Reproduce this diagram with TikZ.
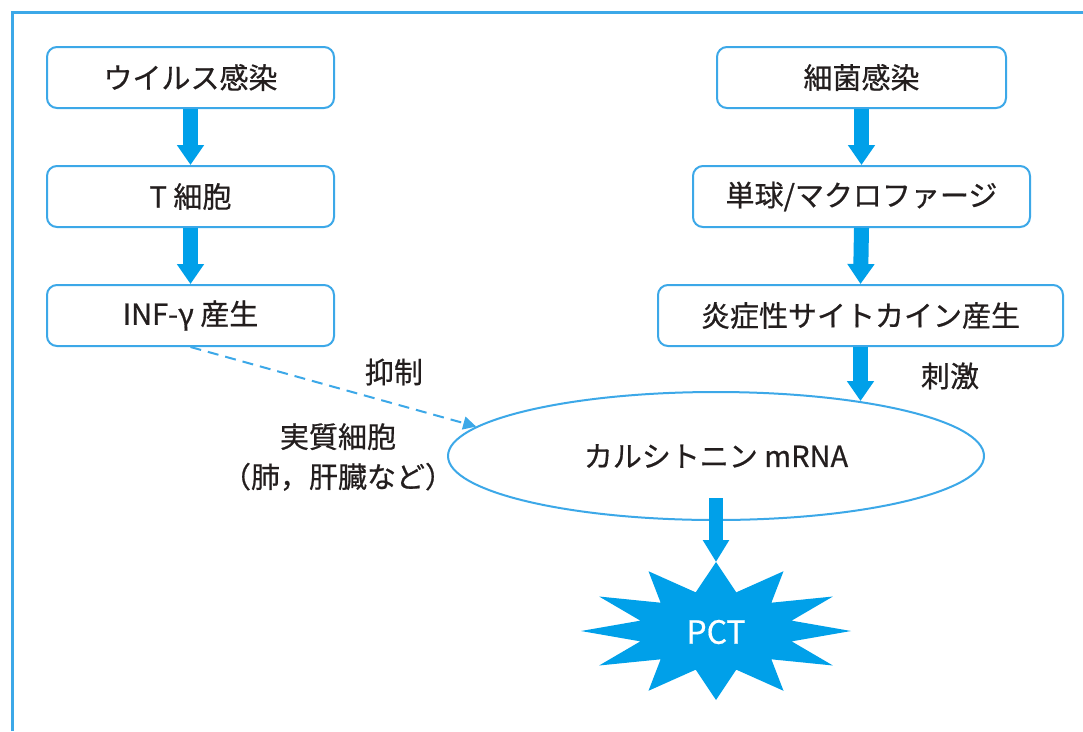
\documentclass[tikz,border=0pt]{standalone}
\usepackage{fontspec}
\setmainfont{Noto Sans CJK JP}[FakeBold=0.6]
\usetikzlibrary{arrows.meta,shapes.geometric}
\definecolor{cblue}{RGB}{0,160,233}
\definecolor{bblue}{RGB}{60,168,232}
\definecolor{txt}{RGB}{35,30,30}
\tikzset{
  box/.style={draw=bblue, line width=2pt, rounded corners=10pt, minimum height=61pt, inner sep=0pt, text=txt, font=\fontsize{29}{34}\selectfont},
  bigarrow/.style={draw=cblue, line width=15pt, -{Triangle[length=20pt,width=26pt]}},
  lbl/.style={text=txt, font=\fontsize{29}{40}\selectfont, inner sep=0pt},
}
\begin{document}
\begin{tikzpicture}[x=1pt,y=-1pt]
\useasboundingbox (0,0) rectangle (1083,731);
\fill[white] (0,0) rectangle (1083,731);
% frame
\draw[bblue, line width=3pt] (12,731) -- (12,12) -- (1083,12);

% left column
\node[box, minimum width=287pt] (l1) at (190.5,77.5) {ウイルス感染};
\node[box, minimum width=287pt] (l2) at (190.5,196.5) {T 細胞};
\node[box, minimum width=287pt] (l3) at (190.5,315.5) {INF-γ 産生};

% right column
\node[box, minimum width=289pt] (r1) at (861.5,77.5) {細菌感染};
\node[box, minimum width=337pt] (r2) at (861.5,196.5) {単球/マクロファージ};
\node[box, minimum width=405pt] (r3) at (860.5,315.5) {炎症性サイトカイン産生};

% ellipse
\node[ellipse, draw=bblue, line width=2pt, minimum width=536pt, minimum height=128pt, inner sep=0pt, text=txt, font=\fontsize{29}{34}\selectfont] (e) at (716,456) {カルシトニン mRNA};

% star
\fill[cblue] ({716+135*cos(90)},{631-69*sin(90)})
  \foreach \a in {105,135,...,435} {
    -- ({716+0.58*135*cos(\a)},{631-0.58*69*sin(\a)})
    -- ({716+135*cos(\a+15)},{631-69*sin(\a+15)})
  } -- cycle;
\node[text=white, font=\fontsize{32}{34}\selectfont, inner sep=0pt] (pct) at (716,632) {PCT};
\coordinate (startop) at (716,562);

% arrows
\draw[bigarrow] (l1.south) -- (l2.north);
\draw[bigarrow] (l2.south) -- (l3.north);
\draw[bigarrow] (r1.south) -- (r2.north);
\draw[bigarrow] (r2.south) -- (r3.north);
\coordinate (etop) at (860.5,401);
\draw[bigarrow] (r3.south) -- (etop);
\coordinate (ebot) at (716,498);
\draw[draw=cblue, line width=14pt, -{Triangle[length=22pt,width=25pt]}] (ebot) -- (startop);

% dashed arrow
\draw[bblue, line width=2pt, dash pattern=on 11pt off 7pt, -{Triangle[length=13pt,width=13pt]}] (l3.south) -- (e.173);

% labels
\node[lbl] (yokusei) at (394,372) {抑制};
\node[lbl] (shigeki) at (950,376) {刺激};
\node[lbl, align=center] (cell) at (338,457) {実質細胞\\（肺，肝臓など）};
\end{tikzpicture}
\end{document}
